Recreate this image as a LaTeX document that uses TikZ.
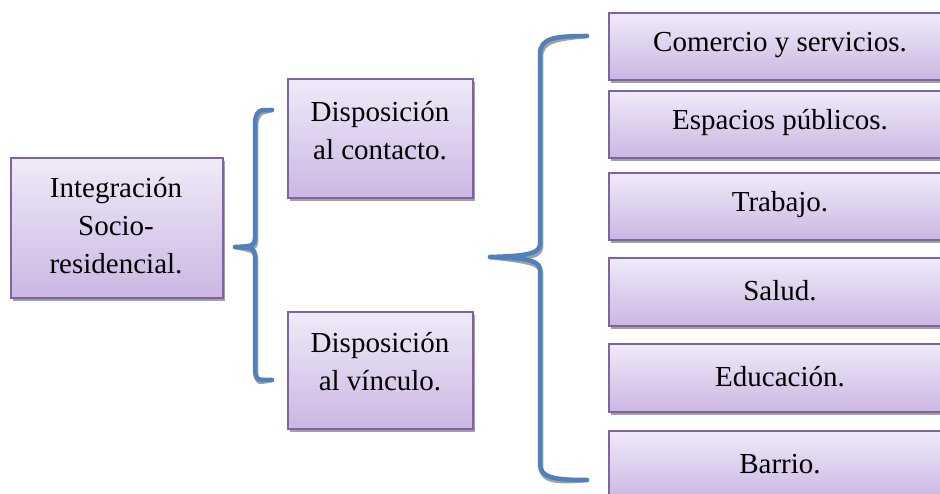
\documentclass[tikz,border=0pt]{standalone}
\usepackage{fontspec}
\setmainfont{Liberation Serif}
\definecolor{boxtop}{HTML}{EFEAF8}
\definecolor{boxbot}{HTML}{CBB7E3}
\definecolor{boxline}{HTML}{8064A2}
\definecolor{brace}{HTML}{4F81BD}
\definecolor{shadowgray}{HTML}{A0A0A0}
\tikzset{
  boxshape/.style={draw=boxline, line width=1.8pt, top color=boxtop, bottom color=boxbot, inner sep=0pt, anchor=north west},
  boxshadow/.style={fill=shadowgray, draw=none},
  lbl/.style={font=\fontsize{29}{38}\selectfont, align=center, inner sep=0pt},
  bracepath/.style={draw=brace, line width=4.5pt, line cap=round, line join=round},
  braceshadow/.style={draw=shadowgray, line width=4.5pt, line cap=round, line join=round}
}
\newcommand{\mybox}[5]{% name, x1, y1, x2, y2
  \fill[boxshadow] (#2+3,#3+4) rectangle (#4+3,#5+4);
  \node[boxshape, minimum width={(#4-#2)*1pt}, minimum height={(#5-#3)*1pt}] (#1) at (#2,#3) {};
}
\begin{document}
\begin{tikzpicture}[x=1pt,y=-1pt]
\useasboundingbox (0,0) rectangle (940,494);
\clip (0,0) rectangle (940,494);
\fill[white] (0,0) rectangle (940,494);

% boxes
\mybox{integ}{10}{157}{222}{297}
\mybox{contacto}{287}{78}{472}{197}
\mybox{vinculo}{287}{311}{472}{428}
\mybox{comercio}{608}{12}{952}{79}
\mybox{espacios}{608}{90}{952}{157}
\mybox{trabajo}{608}{172}{952}{239}
\mybox{salud}{608}{257}{952}{325}
\mybox{educacion}{608}{343}{952}{411}
\mybox{barrio}{608}{430}{952}{498}

% labels
\node[lbl] (tinteg) at (116,226) {Integración\\Socio-\\residencial.};
\node[lbl] (tcontacto) at (380,131) {Disposición\\al contacto.};
\node[lbl] (tvinculo) at (380,362) {Disposición\\al vínculo.};
\node[lbl] (tcomercio) at (780,45) {Comercio y servicios.};
\node[lbl] (tespacios) at (780,123) {Espacios públicos.};
\node[lbl] (ttrabajo) at (780,205) {Trabajo.};
\node[lbl] (tsalud) at (780,291) {Salud.};
\node[lbl] (teducacion) at (780,377) {Educación.};
\node[lbl] (tbarrio) at (780,464) {Barrio.};

% left brace
\coordinate (lbt) at (272,110);
\coordinate (lbm) at (235,247);
\coordinate (lbb) at (272,380);
% right brace
\coordinate (rbt) at (587,36);
\coordinate (rbm) at (490,257);
\coordinate (rbb) at (587,480);

\begin{scope}[shift={(1,3)}]
\draw[braceshadow] (lbt) .. controls (258,110) .. (255,120) -- (255,238) .. controls (254,246) .. (lbm)
  .. controls (254,248) .. (255,256) -- (255,370) .. controls (256,380) .. (lbb);
\draw[braceshadow] (rbt) .. controls (555,36) and (540,38) .. (540,54) -- (540,245) .. controls (539,255) and (520,256) .. (rbm)
  .. controls (520,258) and (539,259) .. (540,269) -- (540,464) .. controls (540,478) and (555,480) .. (rbb);
\end{scope}
\draw[bracepath] (lbt) .. controls (258,110) .. (255,120) -- (255,238) .. controls (254,246) .. (lbm)
  .. controls (254,248) .. (255,256) -- (255,370) .. controls (256,380) .. (lbb);
\draw[bracepath] (rbt) .. controls (555,36) and (540,38) .. (540,54) -- (540,245) .. controls (539,255) and (520,256) .. (rbm)
  .. controls (520,258) and (539,259) .. (540,269) -- (540,464) .. controls (540,478) and (555,480) .. (rbb);
\end{tikzpicture}
\end{document}
